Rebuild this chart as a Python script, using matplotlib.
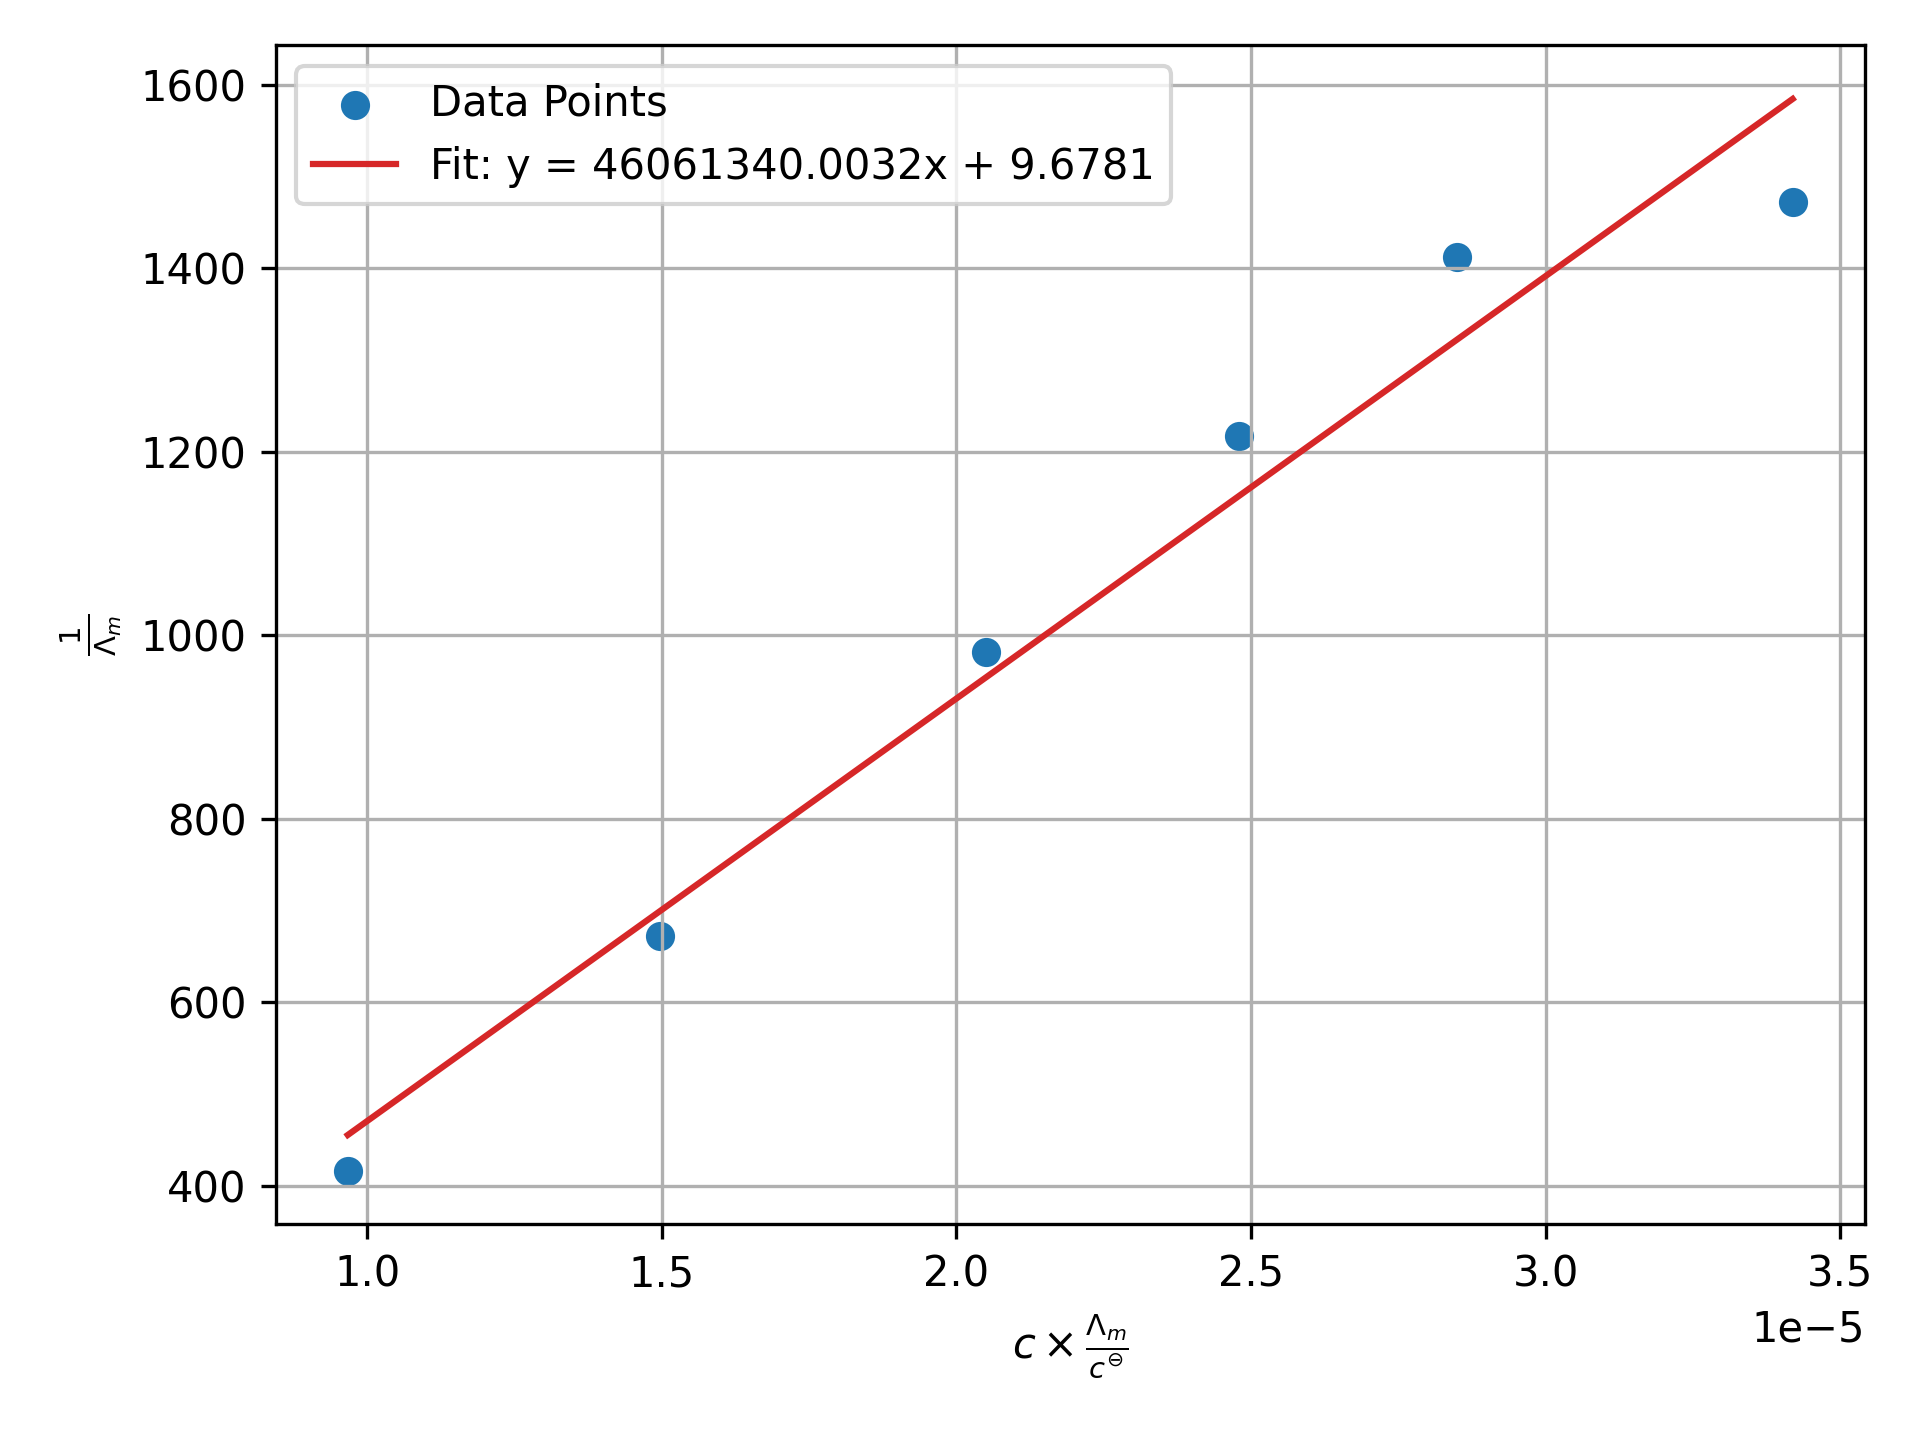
import numpy as np
import matplotlib
matplotlib.use('Agg')
import matplotlib.pyplot as plt

# measured points
x_values = [0.967e-5, 1.497e-5, 2.050e-5, 2.480e-5, 2.850e-5, 3.419e-5]
y_values = [416, 672, 982, 1217, 1412, 1472]

# fitted line parameters (from legend)
slope = 46061340.0032
intercept = 9.6781


def main():
    x = np.array(x_values)
    y = np.array(y_values)
    y_fit = slope * x + intercept

    fig, ax = plt.subplots(figsize=(6.4, 4.8), dpi=300)

    ax.scatter(x, y, label='Data Points')
    ax.plot(x, y_fit, color='tab:red', label=f'Fit: y = {slope:.4f}x + {intercept:.4f}')

    ax.set_xlabel(r'$c \times \frac{\Lambda_m}{c^{\ominus}}$')
    ax.set_ylabel(r'$\frac{1}{\Lambda_m}$')
    ax.legend(loc='upper left')
    ax.grid(True)

    fig.subplots_adjust(left=0.1435, right=0.9713, top=0.9685, bottom=0.1497)
    fig.savefig('out.png', dpi=300)


if __name__ == '__main__':
    main()
